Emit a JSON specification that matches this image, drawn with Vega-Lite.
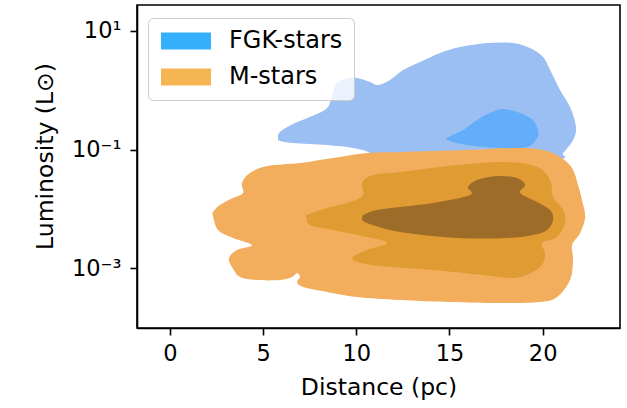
{
  "$schema": "https://vega.github.io/schema/vega-lite/v6.json",
  "width": 483,
  "height": 323,
  "autosize": {"type": "none"},
  "padding": {"left": 137, "top": 5, "right": 7, "bottom": 80},
  "background": "white",
  "config": {
    "view": {"stroke": "black", "strokeWidth": 1.6},
    "font": "DejaVu Sans",
    "axis": {"grid": false, "domainColor": "black", "domainWidth": 1.6, "tickColor": "black", "tickWidth": 1.6, "tickSize": 7, "labelColor": "black", "labelFont": "DejaVu Sans", "labelFontSize": 22.5, "titleFont": "DejaVu Sans", "titleFontSize": 23.5, "titleFontWeight": "normal", "titleColor": "black"}
  },
  "data": {"values": [
    {"poly": "FGK-outer", "series": "FGK-stars", "i": 0, "distance": 5.80, "logL": -0.804},
    {"poly": "FGK-outer", "series": "FGK-stars", "i": 1, "distance": 5.90, "logL": -0.703},
    {"poly": "FGK-outer", "series": "FGK-stars", "i": 2, "distance": 6.60, "logL": -0.568},
    {"poly": "FGK-outer", "series": "FGK-stars", "i": 3, "distance": 7.89, "logL": -0.400},
    {"poly": "FGK-outer", "series": "FGK-stars", "i": 4, "distance": 8.48, "logL": -0.282},
    {"poly": "FGK-outer", "series": "FGK-stars", "i": 5, "distance": 8.70, "logL": -0.079},
    {"poly": "FGK-outer", "series": "FGK-stars", "i": 6, "distance": 8.91, "logL": 0.106},
    {"poly": "FGK-outer", "series": "FGK-stars", "i": 7, "distance": 9.39, "logL": 0.191},
    {"poly": "FGK-outer", "series": "FGK-stars", "i": 8, "distance": 10.04, "logL": 0.207},
    {"poly": "FGK-outer", "series": "FGK-stars", "i": 9, "distance": 10.74, "logL": 0.140},
    {"poly": "FGK-outer", "series": "FGK-stars", "i": 10, "distance": 11.16, "logL": 0.089},
    {"poly": "FGK-outer", "series": "FGK-stars", "i": 11, "distance": 11.81, "logL": 0.174},
    {"poly": "FGK-outer", "series": "FGK-stars", "i": 12, "distance": 12.51, "logL": 0.342},
    {"poly": "FGK-outer", "series": "FGK-stars", "i": 13, "distance": 13.42, "logL": 0.477},
    {"poly": "FGK-outer", "series": "FGK-stars", "i": 14, "distance": 14.49, "logL": 0.629},
    {"poly": "FGK-outer", "series": "FGK-stars", "i": 15, "distance": 15.57, "logL": 0.730},
    {"poly": "FGK-outer", "series": "FGK-stars", "i": 16, "distance": 17.02, "logL": 0.798},
    {"poly": "FGK-outer", "series": "FGK-stars", "i": 17, "distance": 18.41, "logL": 0.798},
    {"poly": "FGK-outer", "series": "FGK-stars", "i": 18, "distance": 19.32, "logL": 0.713},
    {"poly": "FGK-outer", "series": "FGK-stars", "i": 19, "distance": 20.02, "logL": 0.562},
    {"poly": "FGK-outer", "series": "FGK-stars", "i": 20, "distance": 20.40, "logL": 0.342},
    {"poly": "FGK-outer", "series": "FGK-stars", "i": 21, "distance": 20.93, "logL": 0.005},
    {"poly": "FGK-outer", "series": "FGK-stars", "i": 22, "distance": 21.47, "logL": -0.282},
    {"poly": "FGK-outer", "series": "FGK-stars", "i": 23, "distance": 21.79, "logL": -0.619},
    {"poly": "FGK-outer", "series": "FGK-stars", "i": 24, "distance": 21.63, "logL": -0.838},
    {"poly": "FGK-outer", "series": "FGK-stars", "i": 25, "distance": 21.10, "logL": -1.057},
    {"poly": "FGK-outer", "series": "FGK-stars", "i": 26, "distance": 20.67, "logL": -1.175},
    {"poly": "FGK-outer", "series": "FGK-stars", "i": 27, "distance": 15.03, "logL": -1.310},
    {"poly": "FGK-outer", "series": "FGK-stars", "i": 28, "distance": 11.27, "logL": -1.260},
    {"poly": "FGK-outer", "series": "FGK-stars", "i": 29, "distance": 10.74, "logL": -1.057},
    {"poly": "FGK-outer", "series": "FGK-stars", "i": 30, "distance": 9.82, "logL": -0.973},
    {"poly": "FGK-outer", "series": "FGK-stars", "i": 31, "distance": 8.43, "logL": -0.922},
    {"poly": "FGK-outer", "series": "FGK-stars", "i": 32, "distance": 6.60, "logL": -0.889},
    {"poly": "FGK-outer", "series": "FGK-stars", "i": 33, "distance": 5.90, "logL": -0.855},

    {"poly": "FGK-inner", "series": "FGK-stars", "i": 0, "distance": 14.87, "logL": -0.804},
    {"poly": "FGK-inner", "series": "FGK-stars", "i": 1, "distance": 15.73, "logL": -0.669},
    {"poly": "FGK-inner", "series": "FGK-stars", "i": 2, "distance": 16.64, "logL": -0.467},
    {"poly": "FGK-inner", "series": "FGK-stars", "i": 3, "distance": 17.28, "logL": -0.366},
    {"poly": "FGK-inner", "series": "FGK-stars", "i": 4, "distance": 17.87, "logL": -0.315},
    {"poly": "FGK-inner", "series": "FGK-stars", "i": 5, "distance": 18.79, "logL": -0.383},
    {"poly": "FGK-inner", "series": "FGK-stars", "i": 6, "distance": 19.48, "logL": -0.501},
    {"poly": "FGK-inner", "series": "FGK-stars", "i": 7, "distance": 19.75, "logL": -0.669},
    {"poly": "FGK-inner", "series": "FGK-stars", "i": 8, "distance": 19.70, "logL": -0.804},
    {"poly": "FGK-inner", "series": "FGK-stars", "i": 9, "distance": 19.16, "logL": -0.956},
    {"poly": "FGK-inner", "series": "FGK-stars", "i": 10, "distance": 17.71, "logL": -0.973},
    {"poly": "FGK-inner", "series": "FGK-stars", "i": 11, "distance": 15.94, "logL": -0.922},
    {"poly": "FGK-inner", "series": "FGK-stars", "i": 12, "distance": 15.03, "logL": -0.855},

    {"poly": "M-outer", "series": "M-stars", "i": 0, "distance": 2.31, "logL": -2.120},
    {"poly": "M-outer", "series": "M-stars", "i": 1, "distance": 2.58, "logL": -2.356},
    {"poly": "M-outer", "series": "M-stars", "i": 2, "distance": 3.38, "logL": -2.491},
    {"poly": "M-outer", "series": "M-stars", "i": 3, "distance": 4.40, "logL": -2.609},
    {"poly": "M-outer", "series": "M-stars", "i": 4, "distance": 3.60, "logL": -2.693},
    {"poly": "M-outer", "series": "M-stars", "i": 5, "distance": 3.17, "logL": -2.828},
    {"poly": "M-outer", "series": "M-stars", "i": 6, "distance": 3.33, "logL": -2.980},
    {"poly": "M-outer", "series": "M-stars", "i": 7, "distance": 3.76, "logL": -3.148},
    {"poly": "M-outer", "series": "M-stars", "i": 8, "distance": 4.67, "logL": -3.199},
    {"poly": "M-outer", "series": "M-stars", "i": 9, "distance": 5.90, "logL": -3.199},
    {"poly": "M-outer", "series": "M-stars", "i": 10, "distance": 6.55, "logL": -3.148},
    {"poly": "M-outer", "series": "M-stars", "i": 11, "distance": 6.82, "logL": -3.081},
    {"poly": "M-outer", "series": "M-stars", "i": 12, "distance": 6.98, "logL": -3.148},
    {"poly": "M-outer", "series": "M-stars", "i": 13, "distance": 6.82, "logL": -3.233},
    {"poly": "M-outer", "series": "M-stars", "i": 14, "distance": 7.14, "logL": -3.317},
    {"poly": "M-outer", "series": "M-stars", "i": 15, "distance": 8.43, "logL": -3.401},
    {"poly": "M-outer", "series": "M-stars", "i": 16, "distance": 10.04, "logL": -3.486},
    {"poly": "M-outer", "series": "M-stars", "i": 17, "distance": 12.35, "logL": -3.536},
    {"poly": "M-outer", "series": "M-stars", "i": 18, "distance": 15.03, "logL": -3.570},
    {"poly": "M-outer", "series": "M-stars", "i": 19, "distance": 17.71, "logL": -3.587},
    {"poly": "M-outer", "series": "M-stars", "i": 20, "distance": 19.86, "logL": -3.570},
    {"poly": "M-outer", "series": "M-stars", "i": 21, "distance": 20.77, "logL": -3.486},
    {"poly": "M-outer", "series": "M-stars", "i": 22, "distance": 21.47, "logL": -3.199},
    {"poly": "M-outer", "series": "M-stars", "i": 23, "distance": 21.63, "logL": -2.862},
    {"poly": "M-outer", "series": "M-stars", "i": 24, "distance": 21.58, "logL": -2.609},
    {"poly": "M-outer", "series": "M-stars", "i": 25, "distance": 22.01, "logL": -2.406},
    {"poly": "M-outer", "series": "M-stars", "i": 26, "distance": 22.28, "logL": -2.137},
    {"poly": "M-outer", "series": "M-stars", "i": 27, "distance": 22.11, "logL": -1.850},
    {"poly": "M-outer", "series": "M-stars", "i": 28, "distance": 21.90, "logL": -1.597},
    {"poly": "M-outer", "series": "M-stars", "i": 29, "distance": 21.58, "logL": -1.310},
    {"poly": "M-outer", "series": "M-stars", "i": 30, "distance": 20.93, "logL": -1.125},
    {"poly": "M-outer", "series": "M-stars", "i": 31, "distance": 20.02, "logL": -1.007},
    {"poly": "M-outer", "series": "M-stars", "i": 32, "distance": 18.63, "logL": -0.973},
    {"poly": "M-outer", "series": "M-stars", "i": 33, "distance": 15.94, "logL": -1.007},
    {"poly": "M-outer", "series": "M-stars", "i": 34, "distance": 12.35, "logL": -1.040},
    {"poly": "M-outer", "series": "M-stars", "i": 35, "distance": 10.57, "logL": -1.057},
    {"poly": "M-outer", "series": "M-stars", "i": 36, "distance": 8.75, "logL": -1.142},
    {"poly": "M-outer", "series": "M-stars", "i": 37, "distance": 6.98, "logL": -1.226},
    {"poly": "M-outer", "series": "M-stars", "i": 38, "distance": 5.21, "logL": -1.277},
    {"poly": "M-outer", "series": "M-stars", "i": 39, "distance": 4.29, "logL": -1.395},
    {"poly": "M-outer", "series": "M-stars", "i": 40, "distance": 3.86, "logL": -1.563},
    {"poly": "M-outer", "series": "M-stars", "i": 41, "distance": 3.92, "logL": -1.732},
    {"poly": "M-outer", "series": "M-stars", "i": 42, "distance": 3.38, "logL": -1.816},
    {"poly": "M-outer", "series": "M-stars", "i": 43, "distance": 2.68, "logL": -1.934},
    {"poly": "M-outer", "series": "M-stars", "i": 44, "distance": 2.31, "logL": -2.052},

    {"poly": "M-mid", "series": "M-stars", "i": 0, "distance": 7.35, "logL": -2.153},
    {"poly": "M-mid", "series": "M-stars", "i": 1, "distance": 7.51, "logL": -2.272},
    {"poly": "M-mid", "series": "M-stars", "i": 2, "distance": 8.75, "logL": -2.356},
    {"poly": "M-mid", "series": "M-stars", "i": 3, "distance": 10.57, "logL": -2.474},
    {"poly": "M-mid", "series": "M-stars", "i": 4, "distance": 11.65, "logL": -2.575},
    {"poly": "M-mid", "series": "M-stars", "i": 5, "distance": 10.57, "logL": -2.693},
    {"poly": "M-mid", "series": "M-stars", "i": 6, "distance": 9.82, "logL": -2.811},
    {"poly": "M-mid", "series": "M-stars", "i": 7, "distance": 10.04, "logL": -2.895},
    {"poly": "M-mid", "series": "M-stars", "i": 8, "distance": 11.27, "logL": -2.963},
    {"poly": "M-mid", "series": "M-stars", "i": 9, "distance": 14.12, "logL": -3.030},
    {"poly": "M-mid", "series": "M-stars", "i": 10, "distance": 16.80, "logL": -3.115},
    {"poly": "M-mid", "series": "M-stars", "i": 11, "distance": 18.41, "logL": -3.165},
    {"poly": "M-mid", "series": "M-stars", "i": 12, "distance": 19.48, "logL": -3.064},
    {"poly": "M-mid", "series": "M-stars", "i": 13, "distance": 20.02, "logL": -2.912},
    {"poly": "M-mid", "series": "M-stars", "i": 14, "distance": 20.13, "logL": -2.744},
    {"poly": "M-mid", "series": "M-stars", "i": 15, "distance": 19.97, "logL": -2.575},
    {"poly": "M-mid", "series": "M-stars", "i": 16, "distance": 20.77, "logL": -2.474},
    {"poly": "M-mid", "series": "M-stars", "i": 17, "distance": 21.20, "logL": -2.238},
    {"poly": "M-mid", "series": "M-stars", "i": 18, "distance": 21.10, "logL": -2.019},
    {"poly": "M-mid", "series": "M-stars", "i": 19, "distance": 20.56, "logL": -1.799},
    {"poly": "M-mid", "series": "M-stars", "i": 20, "distance": 20.40, "logL": -1.513},
    {"poly": "M-mid", "series": "M-stars", "i": 21, "distance": 19.70, "logL": -1.293},
    {"poly": "M-mid", "series": "M-stars", "i": 22, "distance": 18.09, "logL": -1.209},
    {"poly": "M-mid", "series": "M-stars", "i": 23, "distance": 15.41, "logL": -1.260},
    {"poly": "M-mid", "series": "M-stars", "i": 24, "distance": 12.35, "logL": -1.378},
    {"poly": "M-mid", "series": "M-stars", "i": 25, "distance": 10.90, "logL": -1.428},
    {"poly": "M-mid", "series": "M-stars", "i": 26, "distance": 10.31, "logL": -1.563},
    {"poly": "M-mid", "series": "M-stars", "i": 27, "distance": 10.36, "logL": -1.766},
    {"poly": "M-mid", "series": "M-stars", "i": 28, "distance": 9.66, "logL": -1.884},
    {"poly": "M-mid", "series": "M-stars", "i": 29, "distance": 8.43, "logL": -1.985},
    {"poly": "M-mid", "series": "M-stars", "i": 30, "distance": 7.35, "logL": -2.103},

    {"poly": "M-inner", "series": "M-stars", "i": 0, "distance": 10.31, "logL": -2.153},
    {"poly": "M-inner", "series": "M-stars", "i": 1, "distance": 10.57, "logL": -2.238},
    {"poly": "M-inner", "series": "M-stars", "i": 2, "distance": 12.35, "logL": -2.390},
    {"poly": "M-inner", "series": "M-stars", "i": 3, "distance": 15.41, "logL": -2.491},
    {"poly": "M-inner", "series": "M-stars", "i": 4, "distance": 18.09, "logL": -2.491},
    {"poly": "M-inner", "series": "M-stars", "i": 5, "distance": 19.48, "logL": -2.440},
    {"poly": "M-inner", "series": "M-stars", "i": 6, "distance": 20.24, "logL": -2.356},
    {"poly": "M-inner", "series": "M-stars", "i": 7, "distance": 20.56, "logL": -2.187},
    {"poly": "M-inner", "series": "M-stars", "i": 8, "distance": 20.40, "logL": -2.019},
    {"poly": "M-inner", "series": "M-stars", "i": 9, "distance": 19.70, "logL": -1.884},
    {"poly": "M-inner", "series": "M-stars", "i": 10, "distance": 18.79, "logL": -1.732},
    {"poly": "M-inner", "series": "M-stars", "i": 11, "distance": 19.06, "logL": -1.597},
    {"poly": "M-inner", "series": "M-stars", "i": 12, "distance": 18.63, "logL": -1.479},
    {"poly": "M-inner", "series": "M-stars", "i": 13, "distance": 17.55, "logL": -1.445},
    {"poly": "M-inner", "series": "M-stars", "i": 14, "distance": 16.48, "logL": -1.513},
    {"poly": "M-inner", "series": "M-stars", "i": 15, "distance": 15.99, "logL": -1.631},
    {"poly": "M-inner", "series": "M-stars", "i": 16, "distance": 16.10, "logL": -1.766},
    {"poly": "M-inner", "series": "M-stars", "i": 17, "distance": 14.12, "logL": -1.901},
    {"poly": "M-inner", "series": "M-stars", "i": 18, "distance": 12.35, "logL": -1.968},
    {"poly": "M-inner", "series": "M-stars", "i": 19, "distance": 11.11, "logL": -2.019},
    {"poly": "M-inner", "series": "M-stars", "i": 20, "distance": 10.47, "logL": -2.086}
  ]},
  "encoding": {
    "x": {"field": "distance", "type": "quantitative", "title": "Distance (pc)",
      "scale": {"domain": [-1.77, 24.15], "nice": false, "zero": false},
      "axis": {"values": [0, 5, 10, 15, 20], "labelPadding": 7, "titlePadding": 11}},
    "y": {"field": "logL", "type": "quantitative", "title": "Luminosity (L⊙)",
      "scale": {"domain": [-4.008, 1.438], "nice": false, "zero": false},
      "axis": {"values": [-3, -1, 1], "labelExpr": "datum.value == 1 ? '10¹' : datum.value == -1 ? '10⁻¹' : '10⁻³'", "labelPadding": 9, "titleAngle": -90, "titleX": -85, "titleY": 151, "titleBaseline": "alphabetic", "titleAlign": "center"}},
    "order": {"field": "i", "type": "quantitative"}
  },
  "layer": [
    {"transform": [{"filter": "datum.poly === 'FGK-outer'"}],
     "mark": {"type": "line", "filled": true, "fill": "#9bbff3", "strokeWidth": 0, "interpolate": "cardinal-closed"}},
    {"transform": [{"filter": "datum.poly === 'FGK-inner'"}],
     "mark": {"type": "line", "filled": true, "fill": "#62aefa", "strokeWidth": 0, "interpolate": "cardinal-closed"}},
    {"transform": [{"filter": "datum.poly === 'M-outer'"}],
     "mark": {"type": "line", "filled": true, "fill": "#f2ae5d", "strokeWidth": 0, "interpolate": "cardinal-closed"}},
    {"transform": [{"filter": "datum.poly === 'M-mid'"}],
     "mark": {"type": "line", "filled": true, "fill": "#e09b33", "strokeWidth": 0, "interpolate": "cardinal-closed"}},
    {"transform": [{"filter": "datum.poly === 'M-inner'"}],
     "mark": {"type": "line", "filled": true, "fill": "#9e6c29", "strokeWidth": 0, "interpolate": "cardinal-closed"}},
    {"transform": [{"filter": "datum.i === 0 && (datum.poly === 'FGK-outer' || datum.poly === 'M-outer')"}],
     "mark": {"type": "point", "shape": "square", "filled": true, "opacity": 0},
     "encoding": {
       "color": {"field": "series", "type": "nominal",
         "scale": {"domain": ["FGK-stars", "M-stars"], "range": ["#35b0fd", "#f6b553"]},
         "legend": {"title": null, "orient": "none", "legendX": 11, "legendY": 13, "zindex": 1,
           "symbolType": "M-1,-0.85H4V0.85H-1Z", "symbolSize": 400, "symbolOpacity": 1, "symbolStrokeWidth": 0,
           "labelFontSize": 24, "labelFont": "DejaVu Sans", "labelColor": "black", "labelOffset": 46,
           "padding": 11, "rowPadding": 12, "fillColor": "rgba(255,255,255,0.8)", "strokeColor": "#cccccc", "cornerRadius": 5}}
     }}
  ]
}
